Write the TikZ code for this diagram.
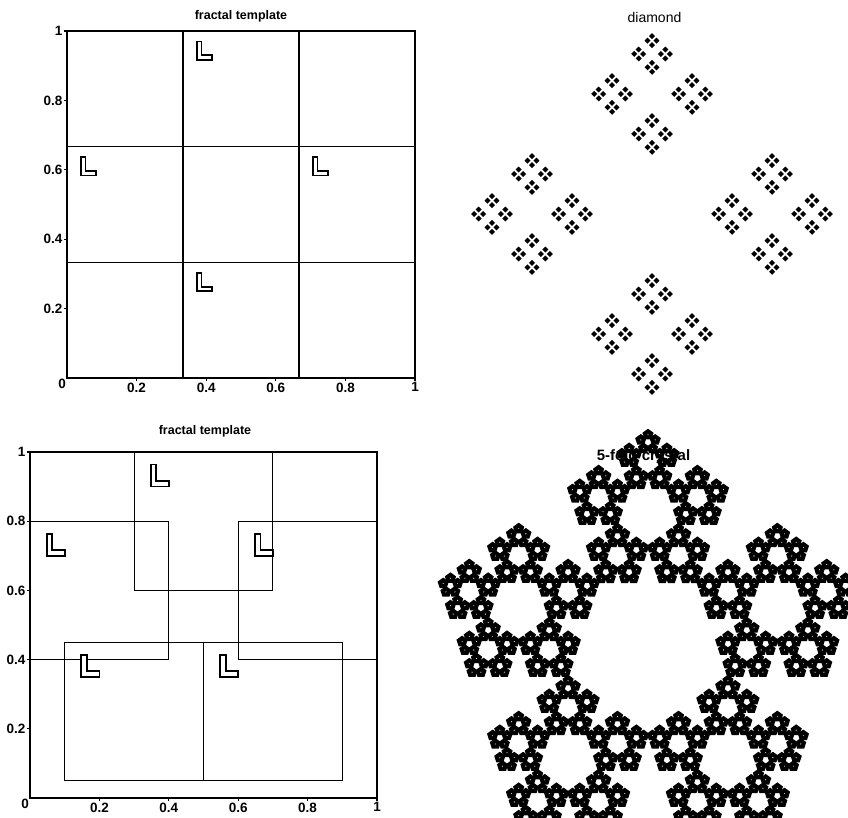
\documentclass[tikz,border=0pt]{standalone}
\usepackage{fontspec}
\setmainfont{Liberation Sans}
\newcommand{\ticklab}{\fontsize{13.5}{13.5}\selectfont\bfseries}
\tikzset{
  frame/.style={line width=1.1pt},
  axis/.style={line width=1.2pt},
  ticklabel/.style={font=\ticklab, inner sep=1pt},
  Lmark/.pic={\draw[line width=1.8pt, fill=white, line join=miter]
    (0.12,0.75) -- (0.25,0.75) -- (0.25,0.79) -- (0.16,0.79) -- (0.16,0.91) -- (0.12,0.91) -- cycle;}
}
\begin{document}
\begin{tikzpicture}[x=1pt, y=1pt]
\useasboundingbox (0,0) rectangle (848,818);

\node[font=\fontsize{12.5}{12.5}\selectfont\bfseries] (title1) at (241,802) {fractal template};
\begin{scope}[shift={(67,440)}, x=348pt, y=347pt]
  \foreach \i in {0,1,2} \foreach \j in {0,1,2} \draw[frame] (\i/3,\j/3) rectangle ++(1/3,1/3);
  \foreach \p in {(1/3,2/3),(0,1/3),(2/3,1/3),(1/3,0)} \pic[scale=1/3] at \p {Lmark};
  \draw[axis] (0,0) -- (1,0);
  \draw[axis] (0,0) -- (0,1);
  \foreach \t [count=\k] in {0.2,0.4,0.6,0.8,1} {
    \draw[axis] (\t,0) -- ++(0,-3pt) node[below, ticklabel] (ax\k) {\t};
    \draw[axis] (0,\t) -- ++(-3pt,0) node[left, ticklabel] (ay\k) {\t};
  }
  \node[ticklabel, anchor=north east] (a0) at (0,0) {0};
\end{scope}

\node[font=\fontsize{12.5}{12.5}\selectfont\bfseries] (title2) at (205,387) {fractal template};
\begin{scope}[shift={(30,20)}, x=347pt, y=346pt]
  \draw[frame] (0,0) rectangle (1,1);
  \foreach \p in {(0.3,0.6),(0,0.4),(0.6,0.4),(0.1,0.05),(0.5,0.05)} {
    \draw[frame] \p rectangle ++(0.4,0.4);
    \pic[scale=0.4] at \p {Lmark};
  }
  \draw[axis] (0,0) -- (1,0);
  \draw[axis] (0,0) -- (0,1);
  \foreach \t [count=\k] in {0.2,0.4,0.6,0.8,1} {
    \draw[axis] (\t,0) -- ++(0,-3pt) node[below, ticklabel] (bx\k) {\t};
    \draw[axis] (0,\t) -- ++(-3pt,0) node[left, ticklabel] (by\k) {\t};
  }
  \node[ticklabel, anchor=north east] (b0) at (0,0) {0};
\end{scope}

\node[font=\fontsize{14}{14}\selectfont] (title3) at (654.5,800) {diamond};
\begin{scope}[shift={(652,604)}]
  \foreach \a in {0,90,180,270} { \begin{scope}[shift={(\a:120)}]
    \foreach \b in {0,90,180,270} { \begin{scope}[shift={(\b:40)}]
      \foreach \c in {0,90,180,270} { \begin{scope}[shift={(\c:13.33)}]
        \foreach \d in {0,90,180,270}
          \fill[shift={(\d:4.44)}] (3,0) -- (0,3) -- (-3,0) -- (0,-3) -- cycle;
      \end{scope} }
    \end{scope} }
  \end{scope} }
\end{scope}

\node[font=\fontsize{15}{15}\selectfont\bfseries] (title4) at (643.5,361) {5-fold crystal};
\begin{scope}
  \clip (424,0) rectangle (848,405);
  \begin{scope}[shift={(648,168)}]
    \foreach \a in {90,162,234,306,18} { \begin{scope}[shift={(\a:135.97)}]
      \foreach \b in {90,162,234,306,18} { \begin{scope}[shift={(\b:51.94)}]
        \foreach \c in {90,162,234,306,18} { \begin{scope}[shift={(\c:19.84)}]
          \foreach \d in {90,162,234,306,18}
            \fill[even odd rule, shift={(\d:7.58)}] (90:5.9) -- (162:5.9) -- (234:5.9) -- (306:5.9) -- (18:5.9) -- cycle (0,0) circle (0.8);
        \end{scope} }
      \end{scope} }
    \end{scope} }
  \end{scope}
\end{scope}
\end{tikzpicture}
\end{document}
